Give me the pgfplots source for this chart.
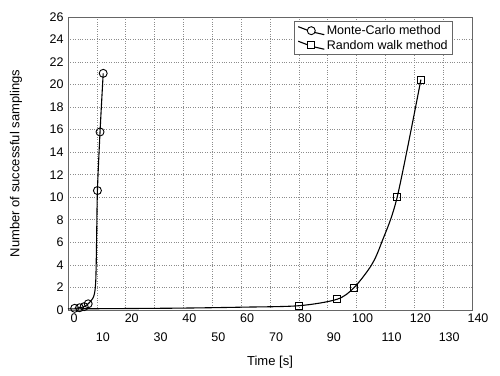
\documentclass[border=0pt]{standalone}
\usepackage{pgfplots}
\pgfplotsset{compat=1.18}
\usepackage{fontspec}
\setmainfont{Liberation Sans}
\begin{document}
\begin{tikzpicture}
\useasboundingbox (-68pt,-65pt) rectangle (432pt,310pt);
\begin{axis}[
  at={(0pt,0pt)}, anchor=south west,
  scale only axis,
  width=404pt, height=293pt,
  xmin=0, xmax=140, ymin=0, ymax=26,
  xtick={0,10,...,140},
  xticklabels={0,,20,,40,,60,,80,,100,,120,,140},
  ytick={0,2,...,26},
  major tick length=0pt,
  grid=major,
  grid style={black!45, dotted, line width=0.7pt},
  axis line style={black!60, line width=0.8pt},
  /pgf/number format/assume math mode=true,
  tick label style={font=\fontsize{12.5}{14}\selectfont},
  xticklabel style={xshift=6pt},
  yticklabel style={xshift=-1pt},
  xlabel={Time [s]},
  ylabel={Number of successful samplings},
  label style={font=\fontsize{13}{15}\selectfont},
  xlabel style={at={(axis description cs:0.5,0)}, anchor=center, yshift=-52pt},
  ylabel style={at={(axis description cs:0,0.5)}, anchor=center, yshift=52pt},
  legend style={at={(0.953,0.986)}, anchor=north east, draw=black!60, line width=0.6pt,
    font=\fontsize{12.5}{14}\selectfont, row sep=0pt, inner xsep=3pt, inner ysep=2pt},
  legend cell align=left,
  clip=false,
]
\addplot[black, line width=1.1pt, smooth, tension=0.5, forget plot]
  coordinates {(2.3,0.15) (4.0,0.2) (5.6,0.3) (7.0,0.55) (8.9,1.2) (9.6,2.5) (9.9,6.0) (10.2,10.6) (11.1,15.8) (12.2,21.0)};
\addplot[black, only marks, mark=o, mark size=4pt, mark options={fill=white, line width=0.9pt},
  legend image code/.code={
    \draw[black, line width=1.1pt] (0pt,4pt) -- (13pt,-1pt) (13pt,-1pt) -- (26pt,-4pt);
    \draw[black, line width=0.9pt, fill=white] (13pt,0pt) circle (4pt);
  }]
  coordinates {(2.3,0.15) (4.0,0.2) (5.6,0.3) (7.0,0.55) (10.2,10.6) (11.1,15.8) (12.2,21.0)};
\addlegendentry{Monte-Carlo method}
\addplot[black, line width=1.1pt, smooth, tension=0.5, forget plot]
  coordinates {(0,0.1) (20,0.13) (40,0.17) (60,0.25) (80,0.38) (93.2,0.95) (99.1,1.98) (105.2,4.0) (108.7,6.0) (114.1,10.05) (122.3,20.45)};
\addplot[black, only marks, mark=square, mark size=3.5pt, mark options={fill=white, line width=0.9pt},
  legend image code/.code={
    \draw[black, line width=1.1pt] (0pt,4pt) -- (13pt,-1pt) (13pt,-1pt) -- (26pt,-4pt);
    \draw[black, line width=0.9pt, fill=white] (9.5pt,-3.5pt) rectangle (16.5pt,3.5pt);
  }]
  coordinates {(80,0.38) (93.2,0.95) (99.1,1.98) (114.1,10.05) (122.3,20.45)};
\addlegendentry{Random walk method}
\pgfplotsinvokeforeach{10,30,50,70,90,110,130}{
  \node[font=\fontsize{12.5}{14}\selectfont, anchor=center] at (axis cs:#1+2.1,-2.4) {#1};
}
\end{axis}
\end{tikzpicture}
\end{document}
